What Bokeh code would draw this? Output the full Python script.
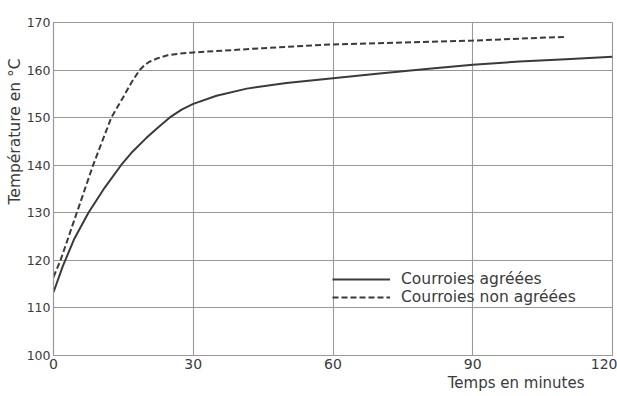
from bokeh.plotting import figure
from bokeh.models import Legend, LegendItem, Title, FixedTicker
from bokeh.embed import file_html
from bokeh.resources import INLINE

# Data
time_agreees = [0, 2, 4.5, 7.5, 11, 14.5, 17, 19.9, 22.5, 24.9, 27.5, 30, 35, 41.5, 50, 60, 70, 80, 90, 100, 110, 120]
temp_agreees = [113.3, 118.8, 124.6, 130, 135.3, 140, 142.9, 145.7, 148, 150, 151.7, 152.9, 154.6, 156.1, 157.3, 158.3, 159.3, 160.2, 161.1, 161.8, 162.3, 162.8]
time_non_agreees = [0, 1.5, 5, 8.5, 12.4, 14.9, 16.8, 18.5, 19.5, 20.5, 22.4, 24.5, 26.5, 30, 45, 60, 75, 90, 100, 110.2]
temp_non_agreees = [116.5, 120, 130, 140, 150, 154.2, 157.5, 160, 161, 161.7, 162.5, 163.1, 163.4, 163.7, 164.6, 165.4, 165.8, 166.2, 166.6, 167]
x_ticks = [0, 30, 60, 90, 120]
y_ticks = [100, 110, 120, 130, 140, 150, 160, 170]
label_agreees = "Courroies agréées"
label_non_agreees = "Courroies non agréées"
x_title = "Temps en minutes"
y_title = "Température en °C"

FONT = "DejaVu Sans"
INK = "#3a3a3a"
GRID = "#999999"

p = figure(width=617, height=396, output_backend="svg", toolbar_location=None,
           x_range=(0, 120), y_range=(100, 170),
           min_border_left=53, min_border_right=5, min_border_top=22, min_border_bottom=41)
p.background_fill_color = "#ffffff"
p.border_fill_color = "#ffffff"
p.outline_line_color = GRID
p.outline_line_width = 1.1

for ax in (p.xaxis[0], p.yaxis[0]):
    ax.axis_line_color = GRID
    ax.axis_line_width = 1.1
    ax.major_tick_line_color = None
    ax.minor_tick_line_color = None
    ax.major_tick_out = 0
    ax.major_tick_in = 0
    ax.minor_tick_out = 0
    ax.minor_tick_in = 0
    ax.major_label_text_font = FONT
    ax.major_label_text_color = INK
    ax.major_label_standoff = 3
p.xaxis.ticker = FixedTicker(ticks=x_ticks)
p.yaxis.ticker = FixedTicker(ticks=y_ticks)
p.xaxis.major_label_text_font_size = "14px"
p.yaxis.major_label_text_font_size = "12.5px"

p.xgrid.ticker = FixedTicker(ticks=x_ticks)
p.ygrid.ticker = FixedTicker(ticks=y_ticks)
for g in (p.xgrid[0], p.ygrid[0]):
    g.grid_line_color = GRID
    g.grid_line_width = 1.1

r1 = p.line(time_agreees, temp_agreees, line_color=INK, line_width=2)
r2 = p.line(time_non_agreees, temp_non_agreees, line_color=INK, line_width=2, line_dash="6 3")

legend = Legend(items=[LegendItem(label=label_agreees, renderers=[r1]),
                       LegendItem(label=label_non_agreees, renderers=[r2])],
                location=(279, 49), background_fill_alpha=0, border_line_alpha=0,
                label_text_font=FONT, label_text_font_size="15.5px", label_text_color=INK,
                glyph_width=58, glyph_height=16, label_standoff=11, spacing=0, padding=0, margin=0,
                label_height=16)
p.add_layout(legend, "center")

xt = Title(text=x_title, align="right", text_font=FONT, text_font_size="15px",
           text_font_style="normal", text_color=INK, offset=28, standoff=0)
p.add_layout(xt, "below")
yt = Title(text=y_title, align="right", text_font=FONT, text_font_size="15.5px",
           text_font_style="normal", text_color=INK, offset=36, standoff=0)
p.add_layout(yt, "left")

open("out.html", "w").write(file_html(p, INLINE))
